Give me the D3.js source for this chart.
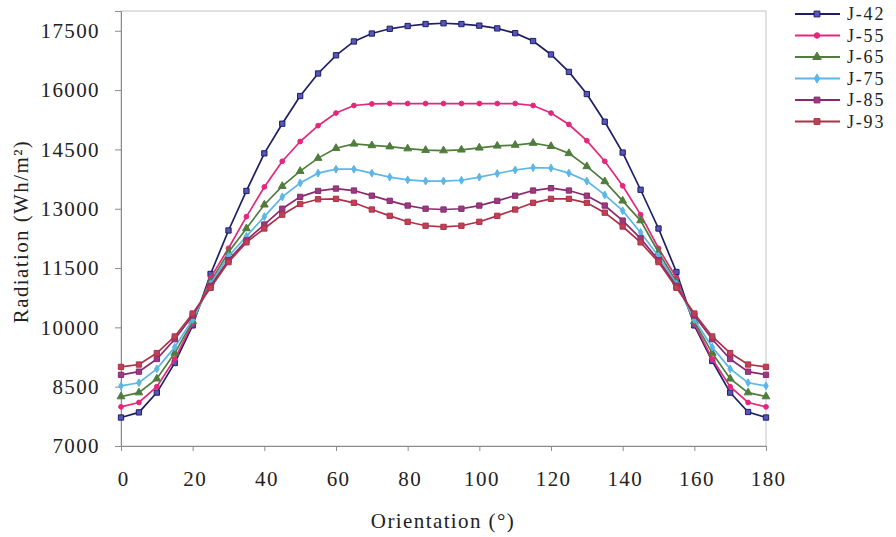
<!DOCTYPE html>
<html>
<head>
<meta charset="utf-8">
<script src="https://cdn.jsdelivr.net/npm/d3@7"></script>
<style>
  body { margin: 0; background: #fff; }
  svg { display: block; }
  text { font-family: "Liberation Serif", "DejaVu Serif", serif; fill: #222; }
</style>
</head>
<body>
<div id="chart"></div>
<script>
const angles = d3.range(0, 181, 5);

const j42 = [7720, 7850, 8350, 9100, 10050, 11350, 12450, 13450, 14400, 15150, 15850, 16420, 16880, 17230, 17430, 17550, 17620, 17670, 17690,
  17670, 17630, 17560, 17440, 17240, 16900, 16460, 15900, 15200, 14420, 13480, 12500, 11400, 10050, 9150, 8350, 7860, 7720];
const j55 = [7990, 8100, 8500, 9200, 10100, 11250, 12000, 12800, 13550, 14200, 14700, 15100, 15420, 15610, 15650, 15660, 15660, 15660, 15660,
  15660, 15660, 15660, 15660, 15610, 15420, 15130, 14720, 14200, 13580, 12850, 12000, 11250, 10100, 9200, 8500, 8100, 7990];
const j65 = [8250, 8350, 8700, 9350, 10150, 11150, 11900, 12500, 13100, 13570, 13950, 14280, 14530, 14640, 14600, 14570, 14520, 14480, 14470,
  14490, 14540, 14590, 14610, 14660, 14580, 14400, 14070, 13690, 13200, 12700, 11900, 11150, 10150, 9350, 8700, 8350, 8250];
const j75 = [8520, 8600, 8950, 9500, 10200, 11100, 11800, 12300, 12800, 13300, 13650, 13900, 14000, 14000, 13900, 13800, 13730, 13700, 13700,
  13720, 13800, 13890, 13980, 14040, 14030, 13900, 13700, 13350, 12950, 12400, 11800, 11100, 10200, 9500, 8950, 8600, 8520];
const j85 = [8800, 8880, 9200, 9700, 10300, 11050, 11700, 12200, 12600, 13000, 13300, 13450, 13510, 13460, 13330, 13200, 13080, 13000, 12980,
  13000, 13080, 13200, 13330, 13460, 13520, 13460, 13330, 13080, 12700, 12250, 11700, 11050, 10300, 9700, 9200, 8880, 8800];
const j93 = [9000, 9060, 9350, 9770, 10350, 11000, 11650, 12150, 12500, 12850, 13120, 13240, 13250, 13150, 12980, 12820, 12670, 12570, 12540,
  12570, 12670, 12820, 12980, 13150, 13250, 13250, 13150, 12900, 12550, 12150, 11650, 11000, 10350, 9770, 9350, 9060, 9000];

const seriesNames = ["J-42", "J-55", "J-65", "J-75", "J-85", "J-93"];
const seriesValues = [j42, j55, j65, j75, j85, j93];
const xTicks = d3.range(0, 181, 20);
const yTicks = d3.range(7000, 17501, 1500);

const colors = ["#1e1e66", "#e3287c", "#4f7d3c", "#5cb6e6", "#8a2a6e", "#ad3046"];
const markerFill = ["#5656b8", "#e3287c", "#4f7d3c", "#5cb6e6", "#9a3a80", "#c04058"];
const shapes = [d3.symbolSquare, d3.symbolCircle, d3.symbolTriangle, d3.symbolDiamond, d3.symbolSquare, d3.symbolSquare];
const sizes = [28, 18, 26, 18, 28, 28];

const width = 896, height = 537;
const margin = {left: 121, right: 130, top: 11, bottom: 91};
const font = {size: "21px", spacing: "1.4px"};

const svg = d3.select("#chart").append("svg")
    .attr("width", width)
    .attr("height", height);

const x = d3.scaleLinear().domain([0, 180]).range([margin.left, width - margin.right]);
const y = d3.scaleLinear().domain([7000, 18000]).range([446, margin.top]);

// plot frame
svg.append("rect")
    .attr("x", x(0)).attr("y", y(18000))
    .attr("width", x(180) - x(0)).attr("height", y(7000) - y(18000))
    .attr("fill", "none").attr("stroke", "#c4c4c4");

const xAxis = svg.append("g")
    .attr("transform", `translate(0,${y(7000)})`)
    .call(d3.axisBottom(x).tickValues(xTicks).tickSize(5).tickPadding(20));
const yAxis = svg.append("g")
    .attr("transform", `translate(${x(0)},0)`)
    .call(d3.axisLeft(y).tickValues(yTicks).tickSize(6).tickPadding(15).tickFormat(d3.format("d")));

[xAxis, yAxis].forEach(a => {
  a.select(".domain").attr("stroke", "#8c8c8c");
  a.selectAll(".tick line").attr("stroke", "#8c8c8c");
  a.selectAll(".tick text")
    .style("font-family", '"Liberation Serif", serif')
    .style("font-size", font.size)
    .style("letter-spacing", font.spacing)
    .attr("fill", "#222");
});
xAxis.selectAll(".tick text").attr("dx", "0.1em");

// axis titles
svg.append("text")
    .attr("x", 443).attr("y", 528)
    .attr("text-anchor", "middle")
    .style("font-size", font.size)
    .style("letter-spacing", font.spacing)
    .text("Orientation (°)");

svg.append("text")
    .attr("transform", `translate(28,${(y(7000) + y(18000)) / 2 + 3}) rotate(-90)`)
    .attr("text-anchor", "middle")
    .style("font-size", font.size)
    .style("letter-spacing", font.spacing)
    .text("Radiation (Wh/m²)");

const line = d3.line()
    .x((d, i) => x(angles[i]))
    .y(d => y(d));

const series = svg.append("g").selectAll(".series")
    .data(seriesValues)
    .enter().append("g")
    .attr("class", "series");

series.append("path")
    .attr("d", line)
    .attr("fill", "none")
    .attr("stroke", (d, i) => colors[i])
    .attr("stroke-width", 1.7);

series.each(function(vals, si) {
  d3.select(this).selectAll("path.mk")
    .data(vals)
    .enter().append("path")
    .attr("class", "mk")
    .attr("d", d3.symbol().type(shapes[si]).size(sizes[si]))
    .attr("transform", (d, i) => `translate(${x(angles[i])},${y(d)})`)
    .attr("fill", markerFill[si])
    .attr("stroke", colors[si])
    .attr("stroke-width", 1);
});

// legend
const legend = svg.append("g").selectAll(".leg")
    .data(seriesNames)
    .enter().append("g")
    .attr("class", "leg")
    .attr("transform", (d, i) => `translate(795,${14 + i * 21.5})`);

legend.append("line")
    .attr("x1", 0).attr("x2", 45)
    .attr("stroke", (d, i) => colors[i])
    .attr("stroke-width", 2);

legend.append("path")
    .attr("d", (d, i) => d3.symbol().type(shapes[i]).size(sizes[i] + 6)())
    .attr("transform", "translate(22,0)")
    .attr("fill", (d, i) => markerFill[i])
    .attr("stroke", (d, i) => colors[i]);

legend.append("text")
    .attr("x", 52).attr("y", 6)
    .style("font-size", "18px")
    .style("letter-spacing", "1.8px")
    .text(d => d);
</script>
</body>
</html>
